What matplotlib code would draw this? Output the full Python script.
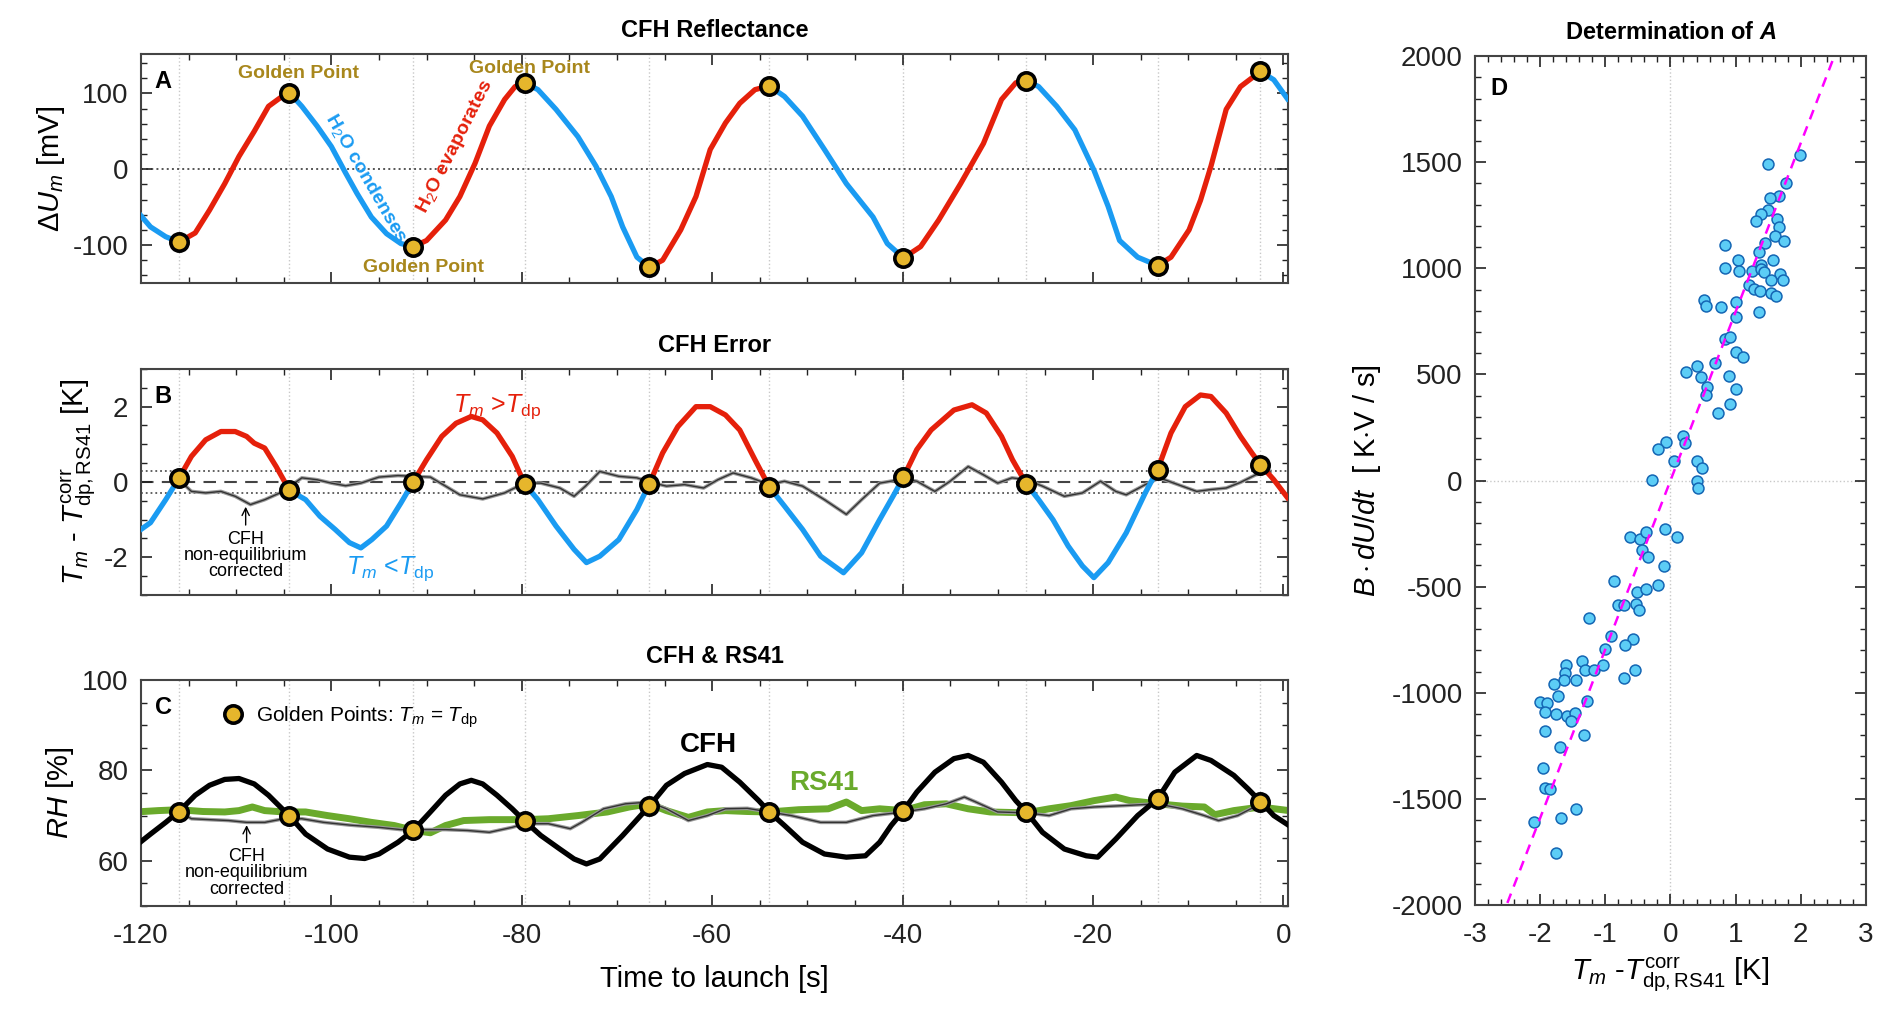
import numpy as np
import matplotlib
matplotlib.use('Agg')
import matplotlib.pyplot as plt
from matplotlib.ticker import MultipleLocator
from matplotlib.lines import Line2D

plt.rcParams['font.family'] = ['Liberation Sans', 'DejaVu Sans']
plt.rcParams['mathtext.fontset'] = 'custom'
plt.rcParams['mathtext.rm'] = 'Liberation Sans'
plt.rcParams['mathtext.it'] = 'Liberation Sans:italic'
plt.rcParams['mathtext.bf'] = 'Liberation Sans:italic:bold'
plt.rcParams['axes.unicode_minus'] = False

# golden points (T_m = T_dp)
gold_t = [-116.0, -104.4, -91.4, -79.7, -66.6, -54.0, -39.9, -27.0, -13.2, -2.4]
gold_dU = [-96, 101, -102, 114, -129, 110, -117, 117, -127, 129]
gold_dT = [0.1, -0.22, 0.0, -0.05, -0.05, -0.13, 0.13, -0.05, 0.33, 0.46]
gold_rh = [70.9, 69.9, 66.7, 68.8, 72.1, 70.8, 71.1, 70.8, 73.7, 73.1]

# panel A: reflectance signal
tA = [-120.5, -119.0, -117.4, -116.0, -114.3, -112.8, -111.2, -109.7, -108.1, -106.6,
      -105.4, -104.4, -103.1, -101.5, -100.0, -98.5, -97.3, -95.8, -94.2, -92.7,
      -91.4, -90.0, -88.0, -86.5, -84.9, -83.4, -81.8, -80.7, -79.7, -78.3,
      -76.4, -74.1, -72.2, -70.6, -69.4, -67.9, -66.6, -65.2, -63.3, -61.7,
      -60.2, -58.6, -57.1, -55.5, -54.0, -52.4, -50.5, -48.2, -45.9, -43.1,
      -41.6, -39.9, -38.1, -36.2, -33.9, -31.5, -29.6, -28.1, -27.0, -25.7,
      -23.8, -21.9, -19.9, -18.4, -17.2, -15.3, -13.2, -11.8, -9.9, -8.7,
      -7.6, -6.0, -4.5, -2.4, -1.0, 0.6]
dU = [-54, -76, -89, -96, -84, -54, -19, 17, 50, 83,
      94, 101, 83, 57, 30, -5, -32, -63, -85, -98,
      -102, -94, -67, -36, 8, 57, 92, 109, 114, 105,
      79, 43, 4, -36, -76, -116, -129, -120, -80, -36,
      26, 61, 87, 105, 110, 96, 70, 26, -19, -63,
      -98, -117, -102, -67, -19, 34, 92, 114, 117, 109,
      83, 52, -1, -49, -94, -116, -127, -116, -80, -41,
      4, 79, 109, 129, 118, 90]

# panel B: T_m - T_dp
tB = [-120.5, -119.0, -117.4, -116.0, -114.7, -113.2, -111.6, -110.1, -108.9, -108.1,
      -107.0, -105.8, -104.4, -102.7, -101.2, -99.6, -98.1, -96.9, -95.75, -94.2,
      -92.7, -91.4, -90.0, -88.4, -86.9, -85.3, -84.1, -82.6, -81.0, -79.7,
      -78.3, -76.4, -74.5, -73.2, -71.8, -69.8, -67.9, -66.6, -65.2, -63.6,
      -61.7, -60.2, -58.6, -57.1, -55.5, -54.0, -52.4, -50.5, -48.6, -46.2,
      -44.3, -42.4, -40.8, -39.9, -38.5, -37.0, -34.6, -32.7, -31.2, -29.6,
      -28.45, -27.0, -25.7, -24.2, -22.6, -21.1, -19.9, -18.4, -16.5, -14.5,
      -13.2, -11.8, -10.3, -8.7, -7.6, -6.0, -4.5, -3.3, -2.4, -1.0, 0.6]
dT = [-1.35, -1.08, -0.47, 0.1, 0.68, 1.12, 1.34, 1.34, 1.21, 1.03,
      0.90, 0.41, -0.22, -0.47, -0.91, -1.26, -1.61, -1.75, -1.53, -1.17,
      -0.56, 0.0, 0.59, 1.21, 1.56, 1.74, 1.65, 1.30, 0.68, -0.05,
      -0.47, -1.17, -1.79, -2.14, -1.97, -1.53, -0.73, -0.05, 0.77, 1.47,
      2.0, 2.0, 1.78, 1.38, 0.59, -0.13, -0.64, -1.26, -1.97, -2.41,
      -1.88, -1.0, -0.29, 0.13, 0.86, 1.38, 1.91, 2.05, 1.83, 1.21,
      0.59, -0.05, -0.47, -1.0, -1.70, -2.23, -2.54, -2.14, -1.35, -0.29,
      0.33, 1.30, 2.0, 2.31, 2.27, 1.83, 1.21, 0.77, 0.46, 0.06, -0.47]

# panel B: non-equilibrium corrected
tB_corr = [-116.0, -114.7, -113.2, -111.6, -110.1, -108.5, -107.0, -105.4, -104.3, -103.1,
           -101.5, -100.0, -98.5, -96.9, -95.0, -93.0, -91.3, -89.6, -88.0, -86.5,
           -84.1, -81.8, -79.7, -78.0, -76.0, -74.5, -73.3, -71.8, -69.8, -67.9,
           -66.6, -64.8, -62.9, -60.9, -59.4, -57.8, -55.9, -54.0, -52.4, -50.5,
           -48.2, -45.9, -44.3, -42.4, -39.9, -38.5, -36.6, -35.0, -33.1, -31.5,
           -30.0, -28.5, -27.0, -25.3, -23.0, -21.1, -19.2, -17.6, -16.5, -14.5,
           -13.0, -11.5, -9.1, -7.6, -6.0, -4.5, -2.9, -1.4]
dT_corr = [0.06, -0.25, -0.29, -0.25, -0.38, -0.60, -0.47, -0.29, -0.11, 0.11,
           0.06, -0.03, -0.10, -0.03, 0.13, 0.17, 0.15, 0.13, -0.11, -0.34,
           -0.45, -0.29, -0.03, -0.03, -0.16, -0.38, -0.11, 0.28, 0.15, 0.11,
           0.0, -0.11, -0.07, -0.16, 0.06, 0.24, 0.11, -0.07, 0.02, -0.11,
           -0.47, -0.86, -0.47, -0.03, 0.08, 0.02, -0.25, 0.02, 0.41, 0.19,
           -0.03, 0.11, 0.06, -0.11, -0.38, -0.29, 0.02, -0.25, -0.34, -0.07,
           0.11, -0.03, -0.25, -0.20, -0.16, -0.01, 0.19, 0.28]

# panel C: CFH relative humidity
tC = [-120.5, -119.0, -117.4, -116.0, -114.3, -112.8, -111.2, -109.7, -108.1, -106.6,
      -104.4, -102.7, -100.4, -98.1, -96.5, -95.0, -93.0, -91.4, -89.6, -88.0,
      -86.5, -85.3, -84.1, -82.6, -81.0, -79.7, -78.0, -76.0, -74.5, -73.2,
      -71.8, -69.4, -66.6, -64.8, -62.9, -60.5, -59.0, -57.1, -55.1, -54.0,
      -52.4, -50.5, -48.2, -45.9, -43.9, -42.4, -41.2, -39.9, -38.5, -36.6,
      -34.6, -33.1, -31.5, -29.6, -28.1, -27.0, -25.3, -23.0, -20.7, -19.5,
      -17.6, -15.3, -13.2, -11.4, -9.1, -7.6, -5.2, -3.7, -2.4, -1.0, 0.6]
rh_cfh = [63.4, 65.9, 68.5, 70.9, 74.5, 76.7, 78.0, 78.2, 77.0, 74.5,
          69.9, 65.9, 62.6, 60.8, 60.5, 61.5, 64.1, 66.7, 70.8, 74.5,
          77.0, 77.8, 77.0, 74.5, 71.5, 68.8, 65.6, 62.6, 60.4, 59.3,
          60.4, 65.6, 72.1, 76.7, 79.3, 81.3, 80.7, 77.4, 73.3, 70.8,
          67.8, 64.1, 61.5, 60.8, 61.1, 64.1, 67.8, 71.1, 75.2, 79.6,
          82.6, 83.3, 81.8, 77.4, 73.3, 70.8, 66.3, 62.6, 61.1, 60.8,
          64.8, 70.0, 73.7, 79.6, 83.3, 82.2, 78.9, 75.9, 73.1, 70.0, 67.8]

# panel C: RS41
tR = [-120.5, -118.2, -116.0, -113.5, -111.2, -109.7, -108.3, -107.0, -105.0, -102.7,
      -100.4, -98.1, -95.8, -93.4, -91.3, -89.6, -88.0, -86.1, -83.4, -79.7,
      -77.2, -74.1, -71.0, -68.7, -66.6, -64.8, -62.5, -60.5, -58.6, -56.3,
      -54.0, -50.9, -47.8, -45.9, -44.3, -42.4, -39.9, -37.7, -35.4, -33.1,
      -30.8, -27.0, -24.6, -22.3, -19.9, -17.6, -16.1, -13.2, -10.6, -8.3,
      -7.2, -5.2, -2.4, 0.6]
rh_rs41 = [70.8, 71.1, 71.3, 70.9, 70.8, 71.1, 71.9, 71.1, 70.8, 70.8,
           70.0, 69.3, 68.5, 67.8, 66.7, 66.2, 67.8, 68.9, 69.1, 69.1,
           69.3, 70.0, 70.8, 71.9, 72.6, 71.1, 69.6, 70.8, 71.1, 70.9,
           70.8, 71.3, 71.5, 73.0, 71.1, 71.5, 71.1, 72.4, 72.6, 71.5,
           70.8, 70.6, 71.5, 72.2, 73.3, 74.1, 73.3, 72.6, 72.1, 71.9,
           70.2, 71.1, 71.9, 71.1]

# panel C: CFH non-equilibrium corrected
tC_corr = [-116.0, -114.7, -112.8, -110.8, -108.9, -107.0, -105.0, -103.1, -100.8, -98.1,
           -95.0, -92.7, -90.3, -88.0, -85.7, -83.4, -81.0, -79.7, -77.2, -74.9,
           -73.7, -71.4, -69.1, -66.6, -64.8, -62.5, -60.5, -58.6, -56.3, -54.0,
           -51.7, -48.6, -45.9, -43.1, -39.9, -37.7, -35.4, -33.5, -32.3, -30.0,
           -27.0, -24.6, -22.3, -19.9, -16.8, -13.2, -10.6, -8.3, -6.8, -4.8, -2.4]
rh_corr = [70.9, 69.3, 69.1, 68.9, 68.5, 68.5, 69.3, 69.3, 68.5, 67.9,
           67.4, 66.9, 66.9, 66.9, 66.7, 66.3, 67.4, 68.2, 68.2, 67.1,
           68.5, 71.5, 72.6, 73.0, 71.5, 68.9, 70.0, 71.5, 71.6, 70.8,
           70.0, 68.5, 68.5, 70.0, 70.8, 71.5, 72.6, 74.1, 73.0, 70.8,
           70.6, 70.0, 71.5, 71.9, 72.2, 72.6, 71.5, 70.0, 68.9, 70.0, 72.6]

# panel D: scatter
dT_D = [1.995, 1.49, 1.77, 1.66, 1.53, 1.50, 1.39, 1.32, 1.63, 1.66,
        1.60, 1.75, 1.45, 1.36, 0.83, 1.04, 1.58, 0.83, 1.05, 1.25,
        1.39, 1.39, 1.43, 1.68, 1.72, 1.54, 1.21, 1.29, 1.37, 1.54,
        1.62, 0.52, 0.54, 0.78, 1.01, 1.00, 1.36, 0.83, 0.92, 1.00,
        1.12, 0.69, 0.41, 0.24, 0.47, 0.90, 0.56, 1.00, 0.54, 0.92,
        0.73, 0.20, -0.07, 0.23, -0.19, 0.05, 0.40, 0.48, -0.29, 0.40,
        0.42, -0.62, -0.46, -0.37, -0.08, 0.10, -0.44, -0.35, -0.10, -0.87,
        -0.52, -0.38, -0.19, -0.81, -0.71, -0.53, -0.49, -1.25, -0.91, -1.00,
        -0.57, -0.70, -1.35, -1.61, -1.31, -1.18, -1.03, -0.55, -0.72, -1.62,
        -1.64, -1.78, -1.45, -1.72, -2.00, -1.90, -1.92, -1.76, -1.28, -1.59,
        -1.46, -1.52, -1.92, -1.32, -1.70, -1.96, -1.92, -1.85, -1.45, -2.10,
        -1.68, -1.75]
BdUdt = [1533, 1492, 1404, 1343, 1333, 1277, 1258, 1222, 1230, 1193,
         1151, 1129, 1118, 1075, 1112, 1041, 1038, 1000, 989, 989,
         1017, 997, 981, 972, 943, 943, 923, 904, 893, 884,
         871, 852, 821, 816, 840, 769, 792, 665, 678, 604,
         582, 555, 538, 513, 487, 494, 443, 432, 403, 363,
         318, 212, 184, 178, 149, 94, 90, 57, 3, 0,
         -36, -267, -277, -242, -226, -267, -327, -358, -404, -475,
         -524, -509, -494, -588, -588, -580, -608, -646, -731, -792,
         -748, -774, -851, -868, -893, -892, -868, -893, -929, -909,
         -939, -959, -940, -1014, -1042, -1050, -1091, -1101, -1039, -1108,
         -1097, -1132, -1179, -1201, -1256, -1355, -1447, -1451, -1547, -1608,
         -1590, -1753]
A_fit = 795.0
fit_x = [-2.6, 2.6]

RED = '#e5200b'
BLUE = '#1a9bf2'
GOLD = '#e6b62c'
GOLD_TXT = '#a8871c'
GREEN = '#6aaa2c'
GRID = '#c8c8c8'


def segments(t, y, gold):
    t = np.asarray(t)
    y = np.asarray(y)
    idx = [0] + [int(np.argmin(np.abs(t - g))) for g in gold] + [len(t) - 1]
    return [(t[a:b + 1], y[a:b + 1]) for a, b in zip(idx[:-1], idx[1:])]


def style(ax):
    ax.tick_params(which='both', direction='in', top=True, right=True,
                   labelsize=20, colors='#222222')
    ax.tick_params(which='major', length=8, width=1.2, pad=9)
    ax.tick_params(which='minor', length=4, width=1.0)
    ax.tick_params(axis='x', which='major', pad=12)
    for s in ax.spines.values():
        s.set_color('#444444')
        s.set_linewidth(1.5)


def golden(ax, yvals):
    ax.plot(gold_t, yvals, 'o', ls='none', ms=12.5, mfc=GOLD, mec='k', mew=2.6, zorder=6)


fig = plt.figure(figsize=(18.92, 10.23), dpi=100)
axA = fig.add_axes([0.0745, 0.7234, 0.6063, 0.2238])
axB = fig.add_axes([0.0745, 0.4184, 0.6063, 0.2209])
axC = fig.add_axes([0.0745, 0.1144, 0.6063, 0.2209])
axD = fig.add_axes([0.7796, 0.1153, 0.2066, 0.8299])

# ---- A
for g in gold_t:
    axA.axvline(g, color=GRID, ls=':', lw=1, zorder=0)
axA.axhline(0, color='#555555', ls=':', lw=1.4, zorder=1)
for ts, ys in segments(tA, dU, gold_t):
    axA.plot(ts, ys, color=RED if ys[-1] > ys[0] else BLUE, lw=3.8,
             solid_capstyle='butt', zorder=3)
golden(axA, gold_dU)
axA.set_xlim(-120, 0.5)
axA.set_ylim(-150, 152)
axA.xaxis.set_major_locator(MultipleLocator(20))
axA.xaxis.set_minor_locator(MultipleLocator(5))
axA.yaxis.set_major_locator(MultipleLocator(100))
axA.yaxis.set_minor_locator(MultipleLocator(20))
style(axA)
axA.tick_params(labelbottom=False)
axA.set_ylabel(r'$\Delta U_m$ [mV]', fontsize=21, labelpad=4)
axA.set_title('CFH Reflectance', fontsize=17, fontweight='bold', pad=12)
axA.text(0.012, 0.93, 'A', transform=axA.transAxes, fontsize=17, fontweight='bold', va='top')
axA.text(-103.5, 126, 'Golden Point', color=GOLD_TXT, fontsize=14, fontweight='bold', ha='center', va='center')
axA.text(-79.2, 133, 'Golden Point', color=GOLD_TXT, fontsize=14, fontweight='bold', ha='center', va='center')
axA.text(-90.3, -130, 'Golden Point', color=GOLD_TXT, fontsize=14, fontweight='bold', ha='center', va='center')
axA.text(-96.3, -12, r'H$_2$O condenses', color=BLUE, fontsize=14, fontweight='bold',
         rotation=-60, ha='center', va='center')
axA.text(-87.0, 30, r'H$_2$O evaporates', color=RED, fontsize=14, fontweight='bold',
         rotation=63, ha='center', va='center')

# ---- B
for g in gold_t:
    axB.axvline(g, color=GRID, ls=':', lw=1, zorder=0)
axB.axhline(0, color='#444444', ls=(0, (6, 4)), lw=1.5, zorder=1)
axB.axhline(0.3, color='#555555', ls=':', lw=1.3, zorder=1)
axB.axhline(-0.3, color='#555555', ls=':', lw=1.3, zorder=1)
for ts, ys in segments(tB, dT, gold_t):
    axB.plot(ts, ys, color=RED if ys.mean() > 0 else BLUE, lw=3.8,
             solid_capstyle='butt', zorder=3)
axB.plot(tB_corr, dT_corr, color='#9a9a9a', lw=2.6, zorder=2)
axB.plot(tB_corr, dT_corr, color='#333333', lw=1.0, zorder=2)
golden(axB, gold_dT)
axB.set_xlim(-120, 0.5)
axB.set_ylim(-3, 3)
axB.xaxis.set_major_locator(MultipleLocator(20))
axB.xaxis.set_minor_locator(MultipleLocator(5))
axB.yaxis.set_major_locator(MultipleLocator(2))
axB.yaxis.set_minor_locator(MultipleLocator(0.5))
style(axB)
axB.tick_params(labelbottom=False)
axB.set_ylabel(r'$T_m$ - $T_{\mathrm{dp,RS41}}^{\mathrm{corr}}$ [K]', fontsize=21, labelpad=4)
axB.set_title('CFH Error', fontsize=17, fontweight='bold', pad=12)
axB.text(0.012, 0.93, 'B', transform=axB.transAxes, fontsize=17, fontweight='bold', va='top')
axB.text(-82.6, 2.0, r'$T_m$ >$T_{\mathrm{dp}}$', color=RED, fontsize=18, ha='center', va='center')
axB.text(-93.8, -2.3, r'$T_m$ <$T_{\mathrm{dp}}$', color=BLUE, fontsize=18, ha='center', va='center')
axB.annotate('CFH\nnon-equilibrium\ncorrected', xy=(-109.0, -0.62), xytext=(-109.0, -1.95),
             ha='center', va='center', fontsize=13, linespacing=0.95,
             arrowprops=dict(arrowstyle='->', lw=1, color='k', shrinkA=2, shrinkB=1))

# ---- C
for g in gold_t:
    axC.axvline(g, color=GRID, ls=':', lw=1, zorder=0)
axC.plot(tR, rh_rs41, color=GREEN, lw=5, zorder=2)
axC.plot(tC_corr, rh_corr, color='#9a9a9a', lw=2.6, zorder=3)
axC.plot(tC_corr, rh_corr, color='#333333', lw=1.0, zorder=3)
axC.plot(tC, rh_cfh, color='k', lw=3.8, zorder=4)
golden(axC, gold_rh)
axC.set_xlim(-120, 0.5)
axC.set_ylim(50, 100)
axC.xaxis.set_major_locator(MultipleLocator(20))
axC.xaxis.set_minor_locator(MultipleLocator(5))
axC.yaxis.set_major_locator(MultipleLocator(20))
axC.yaxis.set_minor_locator(MultipleLocator(5))
style(axC)
axC.set_ylabel(r'$RH$ [%]', fontsize=21, labelpad=4)
axC.set_xlabel('Time to launch [s]', fontsize=21, labelpad=12)
axC.set_title('CFH & RS41', fontsize=17, fontweight='bold', pad=12)
axC.text(0.012, 0.93, 'C', transform=axC.transAxes, fontsize=17, fontweight='bold', va='top')
axC.text(-60.4, 85.7, 'CFH', fontsize=20, fontweight='bold', ha='center', va='center')
axC.text(-48.3, 77.3, 'RS41', fontsize=20, fontweight='bold', color=GREEN, ha='center', va='center')
gh = Line2D([], [], marker='o', ls='none', ms=12.5, mfc=GOLD, mec='k', mew=2.6)
axC.legend([gh], [r'Golden Points: $T_m$ = $T_{\mathrm{dp}}$'], loc='center left',
           bbox_to_anchor=(0.055, 0.835), frameon=False, fontsize=15,
           handletextpad=0.1, borderaxespad=0)
axC.annotate('CFH\nnon-equilibrium\ncorrected', xy=(-108.9, 68.2), xytext=(-108.9, 57.3),
             ha='center', va='center', fontsize=13, linespacing=0.95,
             arrowprops=dict(arrowstyle='->', lw=1, color='k', shrinkA=2, shrinkB=1))

# ---- D
axD.axvline(0, color=GRID, ls=':', lw=1, zorder=0)
axD.axhline(0, color=GRID, ls=':', lw=1, zorder=0)
axD.scatter(dT_D, BdUdt, s=62, c='#5ccdf6', edgecolors='#1466b4', linewidths=1.1, zorder=3)
fx = np.array(fit_x)
axD.plot(fx, A_fit * fx, color='#ff00ff', ls=(0, (4, 3)), lw=1.8, zorder=4)
axD.set_xlim(-3, 3)
axD.set_ylim(-2000, 2000)
axD.xaxis.set_major_locator(MultipleLocator(1))
axD.xaxis.set_minor_locator(MultipleLocator(0.2))
axD.yaxis.set_major_locator(MultipleLocator(500))
axD.yaxis.set_minor_locator(MultipleLocator(100))
style(axD)
axD.set_xlabel(r'$T_m$ -$T_{\mathrm{dp,RS41}}^{\mathrm{corr}}$ [K]', fontsize=21, labelpad=6)
axD.set_ylabel(r'$B \cdot dU/dt$  [ K$\cdot$V / s]', fontsize=21, labelpad=6)
axD.set_title(r'Determination of $\mathbf{A}$', fontsize=17, fontweight='bold', pad=12)
axD.text(0.04, 0.975, 'D', transform=axD.transAxes, fontsize=17, fontweight='bold', va='top')

fig.savefig('out.png', dpi=100)
